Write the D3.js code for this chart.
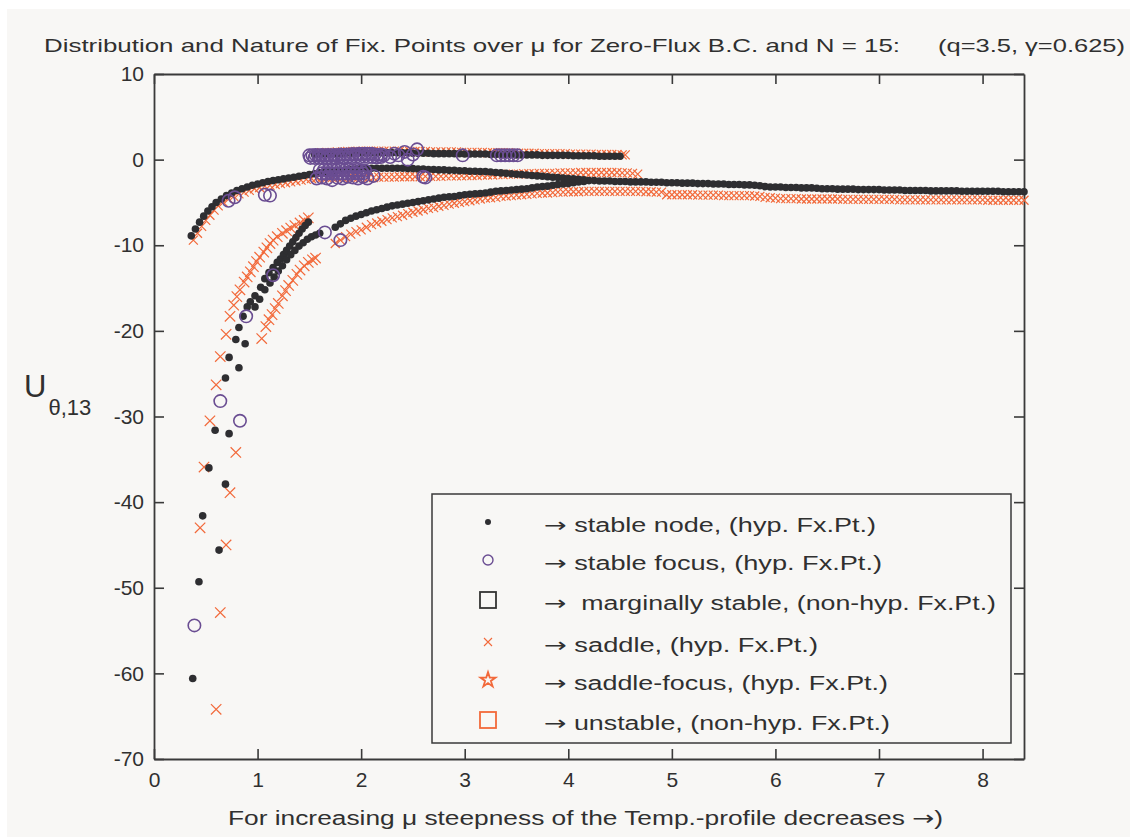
<!DOCTYPE html>
<html>
<head>
<meta charset="utf-8">
<script src="https://cdn.jsdelivr.net/npm/d3@7"></script>
<style>
  html, body { margin: 0; padding: 0; background: #ffffff; }
  text { font-family: "Liberation Sans", Arial, "DejaVu Sans", sans-serif; fill: #303030; }
  .arrow { font-family: "DejaVu Sans", sans-serif; }
</style>
</head>
<body>
<svg id="chart" width="1130" height="837"></svg>
<script>
// ---- data: [mu, U] ----

// stable node (black dots)
const nodeUpperLeft = [[0.36,-8.9],[0.40,-8.1],[0.44,-7.3],[0.48,-6.6],[0.52,-6.0],[0.56,-5.5],[0.60,-5.0],[0.65,-4.6],[0.70,-4.2],[0.75,-3.9],[0.80,-3.6],[0.85,-3.4],[0.90,-3.2],[0.95,-3.0],[1.00,-2.85],[1.05,-2.7],[1.10,-2.55],[1.15,-2.45],[1.20,-2.35],[1.25,-2.25],[1.30,-2.15],[1.35,-2.05],[1.40,-1.95],[1.45,-1.85],[1.50,-1.75],[1.55,-1.65],[1.60,-1.55],[1.65,-1.45]];
const nodeMiddle = [[1.70,-1.35],[1.75,-1.3],[1.80,-1.25],[1.85,-1.2],[1.90,-1.15],[1.95,-1.1],[2.00,-1.05],[2.05,-1.0],[2.10,-1.0],[2.15,-1.0],[2.20,-1.0],[2.25,-1.0],[2.30,-1.0],[2.35,-1.0],[2.40,-1.0],[2.45,-1.05],[2.50,-1.05],[2.55,-1.1],[2.60,-1.1],[2.65,-1.15],[2.70,-1.15],[2.75,-1.2],[2.80,-1.2],[2.85,-1.25],[2.90,-1.25],[2.95,-1.3],[3.00,-1.3],[3.05,-1.35],[3.10,-1.35],[3.15,-1.4],[3.20,-1.4],[3.25,-1.45],[3.30,-1.5],[3.35,-1.55],[3.40,-1.6],[3.45,-1.65],[3.50,-1.7],[3.55,-1.75],[3.60,-1.8],[3.65,-1.85],[3.70,-1.9],[3.75,-1.95],[3.80,-2.0],[3.85,-2.05],[3.90,-2.1],[3.95,-2.15],[4.00,-2.2],[4.05,-2.25],[4.10,-2.3],[4.15,-2.35]];
const nodeTop = [[1.55,0.6],[1.60,0.6],[1.65,0.65],[1.70,0.65],[1.75,0.7],[1.80,0.7],[1.85,0.75],[1.90,0.75],[1.95,0.8],[2.00,0.8],[2.05,0.8],[2.10,0.8],[2.15,0.8],[2.20,0.8],[2.25,0.8],[2.30,0.8],[2.35,0.8],[2.40,0.8],[2.45,0.8],[2.50,0.75],[2.55,0.75],[2.60,0.75],[2.65,0.75],[2.70,0.7],[2.75,0.7],[2.80,0.7],[2.85,0.7],[2.90,0.7],[2.95,0.7],[3.00,0.65],[3.05,0.65],[3.10,0.65],[3.15,0.65],[3.20,0.65],[3.25,0.6],[3.30,0.6],[3.35,0.6],[3.40,0.6],[3.45,0.6],[3.50,0.55],[3.55,0.55],[3.60,0.55],[3.65,0.55],[3.70,0.55],[3.75,0.5],[3.80,0.5],[3.85,0.5],[3.90,0.5],[3.95,0.5],[4.00,0.5],[4.05,0.45],[4.10,0.45],[4.15,0.45],[4.20,0.45],[4.25,0.45],[4.30,0.4],[4.35,0.4],[4.40,0.4],[4.45,0.4],[4.50,0.4]];
const nodeSteep = [[0.374,-60.6],[0.434,-49.3],[0.47,-41.6],[0.53,-36.0],[0.59,-31.6],[0.628,-45.6],[0.69,-37.9],[0.725,-32.0],[0.69,-25.5],[0.725,-23.1],[0.82,-24.3],[0.88,-21.5],[0.79,-21.0],[0.82,-19.6],[0.86,-18.3],[0.90,-17.2],[0.93,-16.6],[0.975,-15.9],[0.975,-17.2],[1.03,-14.9],[1.07,-13.9],[1.11,-13.2],[1.15,-12.6],[1.19,-12.0],[1.22,-11.6],[1.25,-11.1],[1.28,-10.6],[1.31,-10.1],[1.34,-9.6],[1.37,-9.1],[1.40,-8.6],[1.43,-8.1],[1.46,-7.7],[1.49,-7.3],[1.02,-16.3],[1.07,-15.2],[1.12,-14.4],[1.16,-13.7],[1.20,-13.0],[1.24,-12.4],[1.28,-11.7],[1.32,-11.1],[1.36,-10.6],[1.40,-10.1],[1.44,-9.7],[1.48,-9.3],[1.52,-9.0],[1.56,-8.8],[1.60,-8.6]];
const nodeRising = [[1.75,-7.9],[1.80,-7.5],[1.85,-7.1],[1.90,-6.85],[1.95,-6.6],[2.00,-6.4],[2.05,-6.2],[2.10,-6.0],[2.15,-5.85],[2.20,-5.7],[2.25,-5.55],[2.30,-5.4],[2.35,-5.3],[2.40,-5.2],[2.45,-5.1],[2.50,-5.0],[2.55,-4.9],[2.60,-4.8],[2.65,-4.7],[2.70,-4.6],[2.75,-4.5],[2.80,-4.4],[2.85,-4.35],[2.90,-4.3],[2.95,-4.2],[3.00,-4.1],[3.05,-4.05],[3.10,-4.0],[3.15,-3.95],[3.20,-3.9],[3.25,-3.8],[3.30,-3.7],[3.35,-3.65],[3.40,-3.6],[3.45,-3.55],[3.50,-3.5],[3.55,-3.45],[3.60,-3.4],[3.65,-3.3],[3.70,-3.2],[3.75,-3.15],[3.80,-3.1],[3.85,-3.0],[3.90,-2.9],[3.95,-2.85],[4.00,-2.8],[4.05,-2.7],[4.10,-2.6],[4.15,-2.55]];
const nodeTail = [[4.20,-2.45],[4.25,-2.45],[4.30,-2.5],[4.35,-2.5],[4.40,-2.5],[4.45,-2.55],[4.50,-2.55],[4.55,-2.55],[4.60,-2.6],[4.65,-2.6],[4.70,-2.6],[4.75,-2.6],[4.80,-2.65],[4.85,-2.65],[4.90,-2.65],[4.95,-2.7],[5.00,-2.7],[5.05,-2.7],[5.10,-2.75],[5.15,-2.75],[5.20,-2.75],[5.25,-2.8],[5.30,-2.8],[5.35,-2.8],[5.40,-2.85],[5.45,-2.85],[5.50,-2.85],[5.55,-2.9],[5.60,-2.9],[5.65,-2.9],[5.70,-2.95],[5.75,-2.95],[5.80,-3.0],[5.85,-3.05],[5.90,-3.15],[5.95,-3.2],[6.00,-3.2],[6.05,-3.2],[6.10,-3.25],[6.15,-3.25],[6.20,-3.25],[6.25,-3.3],[6.30,-3.3],[6.35,-3.3],[6.40,-3.35],[6.45,-3.4],[6.50,-3.4],[6.55,-3.4],[6.60,-3.45],[6.65,-3.45],[6.70,-3.45],[6.75,-3.45],[6.80,-3.5],[6.85,-3.5],[6.90,-3.5],[6.95,-3.5],[7.00,-3.5],[7.05,-3.55],[7.10,-3.55],[7.15,-3.55],[7.20,-3.55],[7.25,-3.6],[7.30,-3.6],[7.35,-3.6],[7.40,-3.6],[7.45,-3.6],[7.50,-3.65],[7.55,-3.65],[7.60,-3.65],[7.65,-3.65],[7.70,-3.65],[7.75,-3.65],[7.80,-3.7],[7.85,-3.7],[7.90,-3.7],[7.95,-3.7],[8.00,-3.7],[8.05,-3.7],[8.10,-3.7],[8.15,-3.7],[8.20,-3.75],[8.25,-3.75],[8.30,-3.75],[8.35,-3.75],[8.40,-3.75]];

// saddle (orange crosses)
const saddleUpperLeft = [[0.38,-9.4],[0.42,-8.6],[0.46,-7.8],[0.50,-7.1],[0.54,-6.5],[0.58,-5.9],[0.62,-5.4],[0.67,-5.0],[0.72,-4.6],[0.77,-4.3],[0.82,-4.0],[0.87,-3.8],[0.92,-3.6],[0.97,-3.4],[1.02,-3.25],[1.07,-3.1],[1.12,-3.0],[1.17,-2.9],[1.22,-2.8],[1.27,-2.7],[1.32,-2.6],[1.37,-2.5],[1.42,-2.4],[1.47,-2.3],[1.52,-2.2],[1.57,-2.15],[1.62,-2.1]];
const saddleMiddle = [[1.67,-2.1],[1.72,-2.1],[1.77,-2.1],[1.82,-2.1],[1.87,-2.1],[1.92,-2.1],[1.97,-2.1],[2.02,-2.1],[2.07,-2.1],[2.12,-2.1],[2.17,-2.05],[2.22,-2.05],[2.27,-2.05],[2.32,-2.05],[2.37,-2.0],[2.42,-2.0],[2.47,-2.0],[2.52,-2.0],[2.57,-2.0],[2.62,-1.95],[2.67,-1.95],[2.72,-1.95],[2.77,-1.95],[2.82,-1.9],[2.87,-1.9],[2.92,-1.9],[2.97,-1.9],[3.02,-1.85],[3.07,-1.85],[3.12,-1.85],[3.17,-1.8],[3.22,-1.8],[3.27,-1.8],[3.32,-1.75],[3.37,-1.75],[3.42,-1.7],[3.47,-1.7],[3.52,-1.7],[3.57,-1.65],[3.62,-1.65],[3.67,-1.65],[3.72,-1.6],[3.77,-1.6],[3.82,-1.6],[3.87,-1.6],[3.92,-1.55],[3.97,-1.55],[4.02,-1.55],[4.07,-1.55],[4.12,-1.5],[4.17,-1.5],[4.22,-1.5],[4.27,-1.5],[4.32,-1.5],[4.37,-1.5],[4.42,-1.5],[4.47,-1.5],[4.52,-1.55],[4.57,-1.55],[4.62,-1.6],[4.67,-1.7]];
const saddleTop = [[1.62,0.8],[1.67,0.85],[1.72,0.85],[1.77,0.9],[1.82,0.9],[1.87,0.95],[1.92,0.95],[1.97,1.0],[2.02,1.0],[2.07,1.0],[2.12,1.0],[2.17,1.0],[2.22,1.0],[2.27,1.0],[2.32,1.0],[2.37,1.0],[2.42,1.0],[2.47,0.95],[2.52,0.95],[2.57,0.95],[2.62,0.95],[2.67,0.9],[2.72,0.9],[2.77,0.9],[2.82,0.9],[2.87,0.9],[2.92,0.9],[2.97,0.85],[3.02,0.85],[3.07,0.85],[3.12,0.85],[3.17,0.85],[3.22,0.8],[3.27,0.8],[3.32,0.8],[3.37,0.8],[3.42,0.8],[3.47,0.75],[3.52,0.75],[3.57,0.75],[3.62,0.75],[3.67,0.75],[3.72,0.7],[3.77,0.7],[3.82,0.7],[3.87,0.7],[3.92,0.7],[3.97,0.7],[4.02,0.65],[4.07,0.65],[4.12,0.65],[4.17,0.65],[4.22,0.65],[4.27,0.6],[4.32,0.6],[4.37,0.6],[4.42,0.6],[4.47,0.6],[4.52,0.55],[4.55,0.55]];
const saddleSteep = [[0.60,-64.2],[0.64,-52.9],[0.445,-43.0],[0.696,-45.0],[0.483,-35.9],[0.734,-38.9],[0.54,-30.5],[0.79,-34.2],[0.60,-26.3],[0.64,-23.0],[0.696,-20.4],[0.734,-18.3],[0.77,-17.0],[0.80,-16.0],[0.83,-15.2],[0.87,-14.3],[0.90,-13.7],[0.93,-13.1],[0.96,-12.5],[0.99,-11.9],[1.02,-11.4],[1.06,-10.8],[1.09,-10.3],[1.12,-9.8],[1.15,-9.4],[1.19,-9.0],[1.24,-8.6],[1.28,-8.3],[1.32,-8.0],[1.36,-7.7],[1.41,-7.4],[1.45,-7.1],[1.49,-6.8],[1.04,-20.9],[1.08,-19.5],[1.11,-18.7],[1.14,-18.1],[1.17,-17.4],[1.20,-16.8],[1.24,-15.9],[1.27,-15.3],[1.30,-14.7],[1.34,-14.1],[1.38,-13.4],[1.41,-12.9],[1.45,-12.4],[1.49,-12.0],[1.53,-11.7],[1.56,-11.5]];
const saddleRising = [[1.75,-9.8],[1.80,-9.4],[1.85,-9.0],[1.90,-8.7],[1.95,-8.4],[2.00,-8.2],[2.05,-7.9],[2.10,-7.6],[2.15,-7.4],[2.20,-7.2],[2.25,-7.0],[2.30,-6.8],[2.35,-6.65],[2.40,-6.5],[2.45,-6.3],[2.50,-6.15],[2.55,-6.0],[2.60,-5.85],[2.65,-5.7],[2.70,-5.6],[2.75,-5.45],[2.80,-5.35],[2.85,-5.2],[2.90,-5.1],[2.95,-5.0],[3.00,-4.9],[3.05,-4.8],[3.10,-4.7],[3.15,-4.6],[3.20,-4.5],[3.25,-4.45],[3.30,-4.4],[3.35,-4.3],[3.40,-4.25],[3.45,-4.2],[3.50,-4.15],[3.55,-4.1],[3.60,-4.05],[3.65,-4.0],[3.70,-3.95],[3.75,-3.9],[3.80,-3.9],[3.85,-3.85],[3.90,-3.8],[3.95,-3.8],[4.00,-3.75],[4.05,-3.75],[4.10,-3.75],[4.15,-3.7],[4.20,-3.7],[4.25,-3.7],[4.30,-3.7],[4.35,-3.7],[4.40,-3.7],[4.45,-3.7],[4.50,-3.7],[4.55,-3.7],[4.60,-3.7],[4.65,-3.7],[4.70,-3.7],[4.75,-3.75],[4.80,-3.75],[4.85,-3.8],[4.90,-3.8]];
const saddleTail = [[4.95,-4.1],[5.00,-4.1],[5.05,-4.1],[5.10,-4.1],[5.15,-4.1],[5.20,-4.1],[5.25,-4.15],[5.30,-4.15],[5.35,-4.15],[5.40,-4.15],[5.45,-4.15],[5.50,-4.2],[5.55,-4.2],[5.60,-4.2],[5.65,-4.2],[5.70,-4.2],[5.75,-4.2],[5.80,-4.25],[5.85,-4.3],[5.90,-4.4],[5.95,-4.45],[6.00,-4.5],[6.05,-4.55],[6.10,-4.55],[6.15,-4.55],[6.20,-4.55],[6.25,-4.6],[6.30,-4.6],[6.35,-4.6],[6.40,-4.6],[6.45,-4.6],[6.50,-4.6],[6.55,-4.6],[6.60,-4.6],[6.65,-4.65],[6.70,-4.65],[6.75,-4.65],[6.80,-4.65],[6.85,-4.65],[6.90,-4.65],[6.95,-4.65],[7.00,-4.65],[7.05,-4.65],[7.10,-4.65],[7.15,-4.65],[7.20,-4.7],[7.25,-4.7],[7.30,-4.7],[7.35,-4.7],[7.40,-4.7],[7.45,-4.7],[7.50,-4.7],[7.55,-4.7],[7.60,-4.7],[7.65,-4.7],[7.70,-4.7],[7.75,-4.7],[7.80,-4.7],[7.85,-4.7],[7.90,-4.7],[7.95,-4.7],[8.00,-4.7],[8.05,-4.75],[8.10,-4.75],[8.15,-4.75],[8.20,-4.75],[8.25,-4.75],[8.30,-4.75],[8.35,-4.75],[8.40,-4.75]];

// stable focus (purple circles)
const focusScattered = [[0.39,-54.4],[0.64,-28.2],[0.83,-30.5],[0.89,-18.3],[1.15,-13.5],[1.65,-8.5],[1.80,-9.4],[0.72,-4.8],[0.78,-4.4],[1.07,-4.1],[1.12,-4.2],[2.62,-2.1],[2.98,0.5],[2.32,0.7],[2.42,0.9],[2.50,0.6],[2.54,1.2],[2.45,0.0],[2.60,-2.0],[2.28,0.3],[2.36,0.5]];
const focusCluster = [[1.50,0.5],[1.53,0.5],[1.56,0.55],[1.59,0.5],[1.62,0.55],[1.65,0.5],[1.68,0.55],[1.71,0.5],[1.74,0.55],[1.77,0.5],[1.80,0.6],[1.83,0.55],[1.86,0.6],[1.89,0.6],[1.92,0.65],[1.95,0.6],[1.98,0.7],[2.01,0.65],[2.04,0.7],[2.07,0.65],[2.10,0.7],[2.13,0.6],[2.16,0.55],[2.19,0.6],[2.22,0.5],
  [1.51,0.2],[1.55,0.2],[1.59,0.25],[1.63,0.2],[1.67,0.25],[1.71,0.2],[1.75,0.25],[1.79,0.3],[1.83,0.25],[1.87,0.3],[1.91,0.3],[1.95,0.35],[1.99,0.3],[2.03,0.35],[2.07,0.3],[2.11,0.3],[2.15,0.25],[2.19,0.3],
  [1.60,-1.2],[1.64,-1.2],[1.68,-1.25],[1.72,-1.2],[1.76,-1.25],[1.80,-1.2],[1.84,-1.25],[1.88,-1.2],[1.92,-1.25],[1.96,-1.2],[2.00,-1.25],[2.04,-1.3],
  [1.62,-1.6],[1.66,-1.65],[1.70,-1.6],[1.74,-1.65],[1.78,-1.6],[1.82,-1.65],[1.86,-1.6],[1.90,-1.65],[1.94,-1.6],[1.98,-1.65],[2.02,-1.6],
  [1.57,-2.2],[1.62,-2.1],[1.67,-2.2],[1.72,-2.4],[1.77,-2.1],[1.82,-2.2],[1.87,-2.0],[1.92,-2.1],[1.97,-2.2],[2.02,-2.0],[2.06,-2.2],[2.12,-1.9],
  [3.31,0.5],[3.35,0.5],[3.39,0.5],[3.43,0.5],[3.47,0.5],[3.51,0.5]];

// axis ticks and legend entries
const xTicks = [0, 1, 2, 3, 4, 5, 6, 7, 8];
const yTicks = [10, 0, -10, -20, -30, -40, -50, -60, -70];
const legendLabels = [
  " stable node, (hyp. Fx.Pt.)",
  " stable focus, (hyp. Fx.Pt.)",
  "  marginally stable, (non-hyp. Fx.Pt.)",
  " saddle, (hyp. Fx.Pt.)",
  " saddle-focus, (hyp. Fx.Pt.)",
  " unstable, (non-hyp. Fx.Pt.)"
];

const black = "#2e2e31", purple = "#6a4d92", orange = "#f2693a", ink = "#3a3a3a";

const svg = d3.select("#chart");

// figure background
svg.append("rect").attr("x", 7).attr("y", 9).attr("width", 1123).attr("height", 828).attr("fill", "#f8f7f5");

const x = d3.scaleLinear().domain([0, 8.4]).range([154, 1024]);
const y = d3.scaleLinear().domain([-70, 10]).range([759, 74]);

// axes (ticks pointing inward, box on)
const styleAxis = g => {
  g.select(".domain").attr("stroke", ink).attr("stroke-width", 1.8);
  g.selectAll(".tick line").attr("stroke", ink).attr("stroke-width", 1.6);
  g.selectAll(".tick text").attr("font-size", 21).attr("fill", "#303030")
    .attr("font-family", "Liberation Sans, Arial, sans-serif");
};
svg.append("g").attr("transform", "translate(0,759)")
  .call(d3.axisBottom(x).tickValues(xTicks).tickFormat(d => String(d)).tickSizeInner(-10).tickSizeOuter(0).tickPadding(13))
  .call(styleAxis);
svg.append("g").attr("transform", "translate(0,74)")
  .call(d3.axisTop(x).tickValues(xTicks).tickFormat("").tickSizeInner(-10).tickSizeOuter(0))
  .call(styleAxis);
svg.append("g").attr("transform", "translate(154,0)")
  .call(d3.axisLeft(y).tickValues(yTicks).tickFormat(d => String(d)).tickSizeInner(-10).tickSizeOuter(0).tickPadding(10))
  .call(styleAxis);
svg.append("g").attr("transform", "translate(1024,0)")
  .call(d3.axisRight(y).tickValues(yTicks).tickFormat("").tickSizeInner(-10).tickSizeOuter(0))
  .call(styleAxis);

const plot = svg.append("g");
const crossPath = s => `M${-s},${-s}L${s},${s}M${-s},${s}L${s},${-s}`;

function drawCrosses(data, s) {
  plot.append("g").selectAll("path").data(data).join("path")
    .attr("transform", d => `translate(${x(d[0])},${y(d[1])})`)
    .attr("d", crossPath(s))
    .attr("stroke", orange).attr("stroke-width", 1.2).attr("fill", "none");
}
function drawDots(data) {
  plot.append("g").selectAll("circle").data(data).join("circle")
    .attr("cx", d => x(d[0])).attr("cy", d => y(d[1])).attr("r", 3.8)
    .attr("fill", black);
}
function drawRings(data) {
  plot.append("g").selectAll("circle").data(data).join("circle")
    .attr("cx", d => x(d[0])).attr("cy", d => y(d[1])).attr("r", 6.2)
    .attr("fill", "none").attr("stroke", purple).attr("stroke-width", 1.6);
}

[saddleTail, saddleRising, saddleMiddle, saddleTop, saddleUpperLeft].forEach(d => drawCrosses(d, 4.5));
drawCrosses(saddleSteep, 5.2);
[nodeTail, nodeRising, nodeMiddle, nodeTop, nodeUpperLeft, nodeSteep].forEach(drawDots);
[focusCluster, focusScattered].forEach(drawRings);

// legend
const legend = svg.append("g");
legend.append("rect").attr("x", 432).attr("y", 494).attr("width", 579).attr("height", 249)
  .attr("fill", "#f8f7f5").attr("stroke", ink).attr("stroke-width", 1.5);

const rowY = [522, 560, 600, 642, 680, 720];
const rowEnd = [876, 882, 996, 818, 888, 890];
const mx = 488;
legend.append("circle").attr("cx", mx).attr("cy", rowY[0]).attr("r", 3).attr("fill", black);
legend.append("circle").attr("cx", mx).attr("cy", rowY[1]).attr("r", 5).attr("fill", "none").attr("stroke", purple).attr("stroke-width", 1.4);
legend.append("rect").attr("x", mx - 8).attr("y", rowY[2] - 8).attr("width", 16).attr("height", 16).attr("fill", "none").attr("stroke", "#333").attr("stroke-width", 1.8);
legend.append("path").attr("transform", `translate(${mx},${rowY[3]})`).attr("d", crossPath(4)).attr("stroke", orange).attr("stroke-width", 1.1);
legend.append("path").attr("transform", `translate(${mx},${rowY[4]})`).attr("d", d3.symbol(d3.symbolStar, 70)).attr("fill", "none").attr("stroke", orange).attr("stroke-width", 1.8);
legend.append("rect").attr("x", mx - 8).attr("y", rowY[5] - 8).attr("width", 16).attr("height", 16).attr("fill", "none").attr("stroke", orange).attr("stroke-width", 1.8);

const rows = legend.selectAll("text.lab").data(legendLabels).join("text")
  .attr("class", "lab")
  .attr("x", 544).attr("y", (d, i) => rowY[i] + 10)
  .attr("font-size", 20)
  .attr("textLength", (d, i) => rowEnd[i] - 544).attr("lengthAdjust", "spacingAndGlyphs")
  .style("white-space", "pre");
rows.append("tspan").attr("class", "arrow").text("\u2192");
rows.append("tspan").text(d => d);

// title
svg.append("text").attr("x", 44).attr("y", 52).attr("font-size", 19)
  .attr("textLength", 856).attr("lengthAdjust", "spacingAndGlyphs")
  .text("Distribution and Nature of Fix. Points over \u03bc for Zero-Flux B.C. and N = 15:");
svg.append("text").attr("x", 938).attr("y", 52).attr("font-size", 19)
  .attr("textLength", 187).attr("lengthAdjust", "spacingAndGlyphs")
  .text("(q=3.5, \u03b3=0.625)");

// x label
const xl = svg.append("text").attr("x", 228).attr("y", 825).attr("font-size", 20)
  .attr("textLength", 715).attr("lengthAdjust", "spacingAndGlyphs")
  .style("white-space", "pre");
xl.append("tspan").text("For increasing \u03bc steepness of the Temp.-profile decreases ");
xl.append("tspan").attr("class", "arrow").text("\u2192");
xl.append("tspan").text(")");

// y label
const yl = svg.append("text").attr("x", 24).attr("y", 397);
yl.append("tspan").attr("font-size", 31).text("U");
yl.append("tspan").attr("font-size", 22).attr("dy", 18).attr("dx", 2).text("\u03b8,13");
</script>
</body>
</html>
